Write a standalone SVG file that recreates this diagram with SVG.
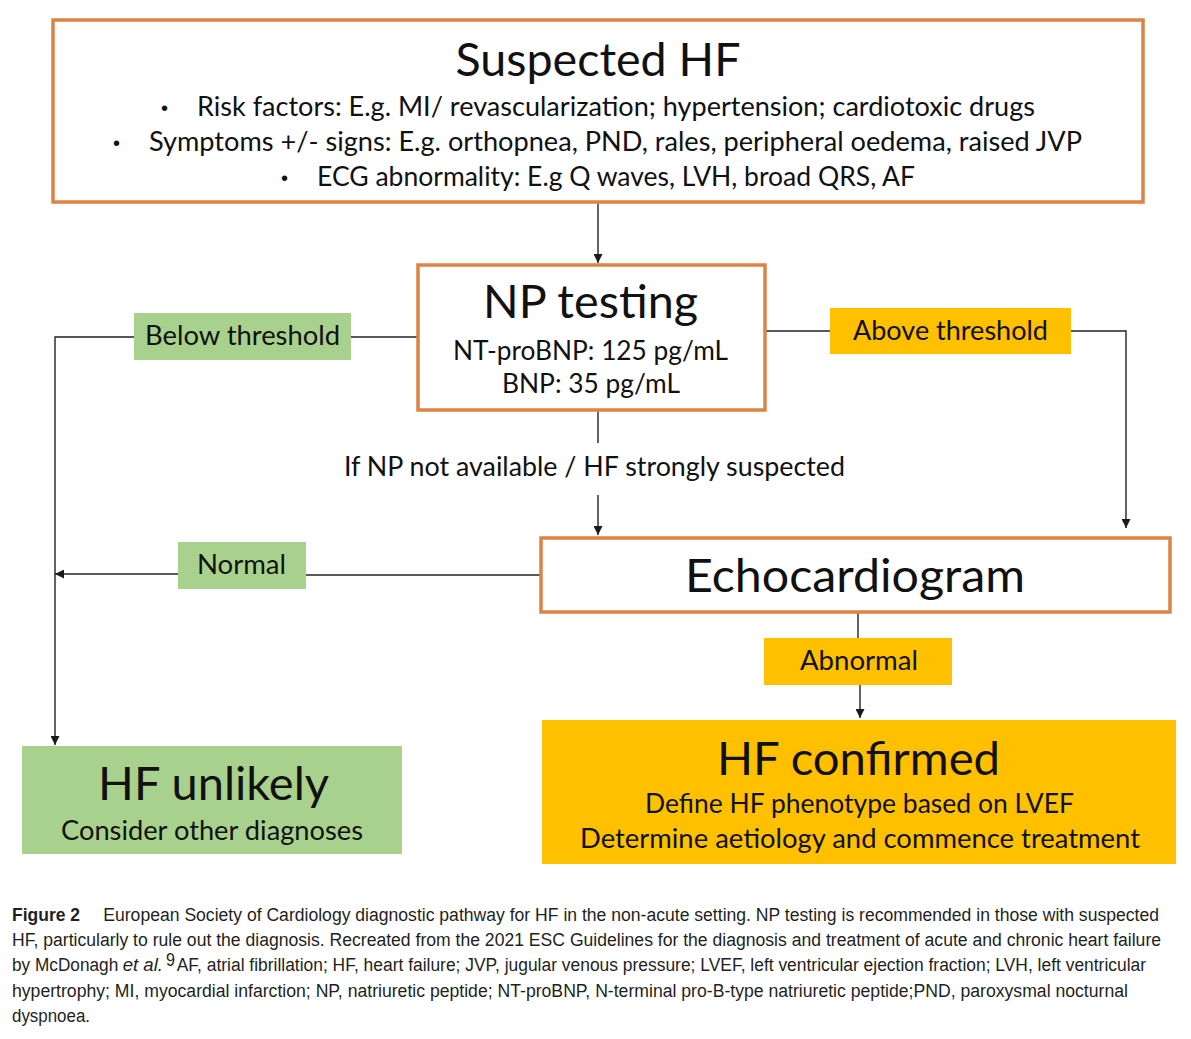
<svg xmlns="http://www.w3.org/2000/svg" width="1191" height="1039" viewBox="0 0 1191 1039">
<defs>
<marker id="ah" viewBox="0 0 10 10" refX="10" refY="5" markerWidth="9" markerHeight="9" markerUnits="userSpaceOnUse" orient="auto">
<path d="M0,0 L10,5 L0,10 z" fill="#1a1a1a"/>
</marker>
<style>
.ob{fill:#ffffff;stroke:#DD8443;stroke-width:3.5}
.gr{fill:#A9D18E}
.yl{fill:#FFC000}
.t{font-family:Lato,"Open Sans","Liberation Sans",sans-serif;fill:#111111;text-anchor:middle}
.big{font-size:47px}
.sm{font-size:26px}
.bl{font-family:Lato,"Open Sans","Liberation Sans",sans-serif;fill:#111111;font-size:26px}
.dot{font-family:"Liberation Sans",sans-serif;fill:#111111;font-size:20px}
.c{stroke:#222222;stroke-width:1.4;fill:none}
.cap{font-family:"Liberation Sans",Arial,sans-serif;font-size:19px;fill:#231F20}
</style>
</defs>
<rect width="1191" height="1039" fill="#ffffff"/>

<g id="connectors">
<path class="c" d="M598,202 V263" marker-end="url(#ah)"/>
<path class="c" d="M418,337 H351"/>
<path class="c" d="M134,337 H55 V745" marker-end="url(#ah)"/>
<path class="c" d="M765,331 H830"/>
<path class="c" d="M1071,331 H1126 V528" marker-end="url(#ah)"/>
<path class="c" d="M598,410 V443"/>
<path class="c" d="M598,495 V535" marker-end="url(#ah)"/>
<path class="c" d="M541,575 H306"/>
<path class="c" d="M178,574 H55" marker-end="url(#ah)"/>
<path class="c" d="M858,612 V638"/>
<path class="c" d="M860,685 V718" marker-end="url(#ah)"/>
</g>

<g id="suspected-hf">
<rect class="ob" x="53" y="20" width="1090" height="182"/>
<text class="t big" x="598" y="76" textLength="285" lengthAdjust="spacingAndGlyphs">Suspected HF</text>
<text class="dot" x="161" y="115">•</text>
<text class="bl" x="197" y="116" textLength="838" lengthAdjust="spacingAndGlyphs">Risk factors: E.g. MI/ revascularization; hypertension; cardiotoxic drugs</text>
<text class="dot" x="113" y="150">•</text>
<text class="bl" x="149" y="151" textLength="933" lengthAdjust="spacingAndGlyphs">Symptoms +/- signs: E.g. orthopnea, PND, rales, peripheral oedema, raised JVP</text>
<text class="dot" x="281" y="185">•</text>
<text class="bl" x="317" y="186" textLength="598" lengthAdjust="spacingAndGlyphs">ECG abnormality: E.g Q waves, LVH, broad QRS, AF</text>
</g>

<g id="np-testing">
<rect class="ob" x="418" y="265" width="347" height="145"/>
<text class="t big" x="590.5" y="318" textLength="215" lengthAdjust="spacingAndGlyphs">NP testing</text>
<text class="t sm" x="590.5" y="360" textLength="275" lengthAdjust="spacingAndGlyphs">NT-proBNP: 125 pg/mL</text>
<text class="t sm" x="591" y="393" textLength="178" lengthAdjust="spacingAndGlyphs">BNP: 35 pg/mL</text>
</g>

<g id="below-threshold">
<rect class="gr" x="134" y="313" width="217" height="47"/>
<text class="t sm" x="242.5" y="345" textLength="195" lengthAdjust="spacingAndGlyphs">Below threshold</text>
</g>

<g id="above-threshold">
<rect class="yl" x="830" y="308" width="241" height="46"/>
<text class="t sm" x="950.5" y="340" textLength="195" lengthAdjust="spacingAndGlyphs">Above threshold</text>
</g>

<g id="np-not-available">
<text class="t sm" x="594.5" y="476" textLength="501" lengthAdjust="spacingAndGlyphs">If NP not available / HF strongly suspected</text>
</g>

<g id="echocardiogram">
<rect class="ob" x="541" y="538" width="629" height="74"/>
<text class="t big" x="855" y="592" textLength="340" lengthAdjust="spacingAndGlyphs">Echocardiogram</text>
</g>

<g id="normal">
<rect class="gr" x="178" y="542" width="128" height="47"/>
<text class="t sm" x="241.5" y="574" textLength="89" lengthAdjust="spacingAndGlyphs">Normal</text>
</g>

<g id="abnormal">
<rect class="yl" x="764" y="638" width="188" height="47"/>
<text class="t sm" x="859" y="670" textLength="118" lengthAdjust="spacingAndGlyphs">Abnormal</text>
</g>

<g id="hf-confirmed">
<rect class="yl" x="542" y="720" width="634" height="144"/>
<text class="t big" x="858.5" y="775" textLength="283" lengthAdjust="spacingAndGlyphs">HF confirmed</text>
<text class="t sm" x="859.5" y="813" textLength="429" lengthAdjust="spacingAndGlyphs">Define HF phenotype based on LVEF</text>
<text class="t sm" x="860" y="848" textLength="560" lengthAdjust="spacingAndGlyphs">Determine aetiology and commence treatment</text>
</g>

<g id="hf-unlikely">
<rect class="gr" x="22" y="746" width="380" height="108"/>
<text class="t big" x="213.5" y="800" textLength="231" lengthAdjust="spacingAndGlyphs">HF unlikely</text>
<text class="t sm" x="212" y="840" textLength="302" lengthAdjust="spacingAndGlyphs">Consider other diagnoses</text>
</g>

<g id="caption" transform="translate(12,0) scale(0.85,1)">
<text class="cap" x="0" y="921" font-weight="bold" textLength="80" lengthAdjust="spacingAndGlyphs">Figure 2</text>
<text class="cap" x="107.4" y="921" textLength="1242" lengthAdjust="spacingAndGlyphs">European Society of Cardiology diagnostic pathway for HF in the non-acute setting. NP testing is recommended in those with suspected</text>
<text class="cap" x="0" y="946" textLength="1351.8" lengthAdjust="spacingAndGlyphs">HF, particularly to rule out the diagnosis. Recreated from the 2021 ESC Guidelines for the diagnosis and treatment of acute and chronic heart failure</text>
<text class="cap" x="0" y="971" textLength="125" lengthAdjust="spacingAndGlyphs">by McDonagh</text>
<text class="cap" x="130.2" y="971" font-style="italic" textLength="47.4" lengthAdjust="spacingAndGlyphs">et al.</text>
<text class="cap" x="181.2" y="966" font-size="12" fill="#2B3990">9</text>
<text class="cap" x="193.8" y="971" textLength="1140.4" lengthAdjust="spacingAndGlyphs">AF, atrial fibrillation; HF, heart failure; JVP, jugular venous pressure; LVEF, left ventricular ejection fraction; LVH, left ventricular</text>
<text class="cap" x="0" y="997" textLength="1312.9" lengthAdjust="spacingAndGlyphs">hypertrophy; MI, myocardial infarction; NP, natriuretic peptide; NT-proBNP, N-terminal pro-B-type natriuretic peptide;PND, paroxysmal nocturnal</text>
<text class="cap" x="0" y="1022" textLength="91.8" lengthAdjust="spacingAndGlyphs">dyspnoea.</text>
</g>
</svg>
